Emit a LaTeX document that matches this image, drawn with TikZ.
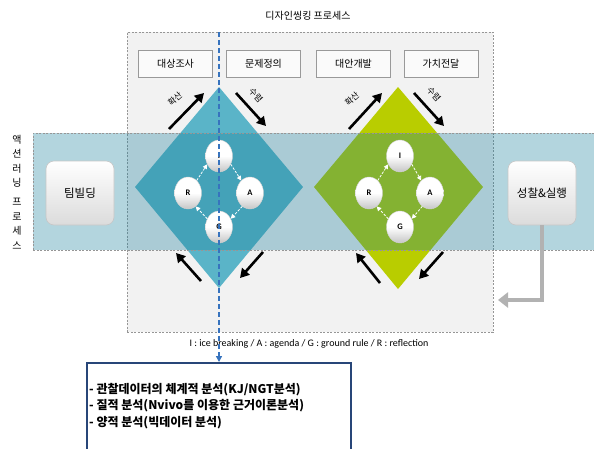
\documentclass[tikz,border=0pt]{standalone}
\usepackage{fontspec}
\setmainfont{Noto Sans CJK KR}
\newfontfamily\latin{Carlito}
\usetikzlibrary{arrows.meta,shapes.geometric}
\definecolor{dtbg}{RGB}{242,242,242}
\definecolor{bandc}{RGB}{25,126,154}
\definecolor{dblue}{RGB}{90,180,200}
\definecolor{dgreen}{RGB}{185,205,0}
\definecolor{lineblue}{RGB}{55,115,190}
\definecolor{boxblue}{RGB}{40,70,120}
\definecolor{arrgray}{RGB}{178,178,178}
\definecolor{dashgray}{RGB}{150,150,150}
\begin{document}
\begin{tikzpicture}[x=1pt,y=-1pt,
  finedash/.style={draw=dashgray, line width=0.6pt, dash pattern=on 2pt off 1.5pt},
  stepbox/.style={draw=gray!80, line width=0.6pt, fill=white!96!gray, minimum width=74pt, minimum height=27pt, inner sep=0pt, font=\fontsize{10}{12}\selectfont},
  sidebox/.style={draw=gray!45, line width=0.6pt, rounded corners=8pt, top color=white, bottom color=gray!28, minimum width=68pt, minimum height=64pt, inner sep=0pt, font=\fontsize{11.5}{13}\selectfont},
  ball/.style={ellipse, draw=gray!35, line width=0.4pt, top color=white, bottom color=gray!45, middle color=white, minimum width=27pt, minimum height=32pt, inner sep=0pt, font=\latin\bfseries\fontsize{8.5}{9}\selectfont},
  cyc/.style={white, line width=0.8pt, dash pattern=on 2.5pt off 1.5pt, -{Triangle[length=4.5pt,width=4.5pt]}},
  bigarr/.style={black, line width=2.6pt, -{Triangle[length=9pt,width=10pt]}},
  arrlab/.style={font=\fontsize{8.5}{10}\selectfont, inner sep=0pt}
]
\useasboundingbox (0,0) rectangle (594,448);
\clip (0,0) rectangle (594,448);

% title
\node[font=\fontsize{10}{12}\selectfont] (title) at (308,16) {디자인씽킹 프로세스};

% design thinking area
\node[finedash, fill=dtbg, minimum width=366pt, minimum height=300pt, inner sep=0pt, anchor=north west] (dt) at (127,32) {};

% step boxes
\node[stepbox] (s1) at (175.5,63.5) {대상조사};
\node[stepbox] (s2) at (263.5,63.5) {문제정의};
\node[stepbox] (s3) at (353.5,63.5) {대안개발};
\node[stepbox] (s4) at (441,63.5) {가치전달};

% diamonds
\fill[dblue] (219,87) -- (303,187) -- (219,288) -- (135,187) -- cycle;
\fill[dgreen] (398,87) -- (483,187) -- (398,289) -- (314,187) -- cycle;

% action learning band
\node[finedash, fill=bandc, fill opacity=0.33, minimum width=565pt, minimum height=117pt, inner sep=0pt, anchor=north west] (band) at (33,133) {};

% vertical label
\node[align=center, font=\fontsize{10}{14.6}\selectfont, inner sep=0pt] (al) at (17,192) {액\\션\\러\\닝\\[4pt]프\\로\\세\\스};

% side boxes
\node[sidebox] (tb) at (80,193) {팀빌딩};
\node[sidebox] (ref) at (542,193) {성찰\&실행};

% IRAG cycles, blue
\node[ball] (bI) at (219,156) {I};
\node[ball] (bR) at (188,193) {R};
\node[ball] (bA) at (250,193) {A};
\node[ball] (bG) at (219,227) {G};
\draw[cyc] (bI.-35) -- (bA.125);
\draw[cyc] (bA.-120) -- (bG.35);
\draw[cyc] (bG.145) -- (bR.-60);
\draw[cyc] (bR.55) -- (bI.215);

% IRAG cycles, green
\node[ball] (gI) at (400,156) {I};
\node[ball] (gR) at (369,193) {R};
\node[ball] (gA) at (430,193) {A};
\node[ball] (gG) at (400,227) {G};
\draw[cyc] (gI.-35) -- (gA.125);
\draw[cyc] (gA.-120) -- (gG.35);
\draw[cyc] (gG.145) -- (gR.-60);
\draw[cyc] (gR.55) -- (gI.215);

% black arrows, blue diamond
\coordinate (b1s) at (169,129); \coordinate (b1e) at (204,93);
\coordinate (b2s) at (236,93);  \coordinate (b2e) at (266,126);
\coordinate (b3s) at (201,281); \coordinate (b3e) at (176,253);
\coordinate (b4s) at (263,252); \coordinate (b4e) at (240,278);
\draw[bigarr] (b1s) -- (b1e);
\draw[bigarr] (b2s) -- (b2e);
\draw[bigarr] (b3s) -- (b3e);
\draw[bigarr] (b4s) -- (b4e);
\node[arrlab, rotate=42] (lb1) at (175,99) {확산};
\node[arrlab, rotate=-48] (lb2) at (256,95) {수렴};

% black arrows, green diamond
\coordinate (g1s) at (349,129); \coordinate (g1e) at (382,93);
\coordinate (g2s) at (414,93);  \coordinate (g2e) at (444,126);
\coordinate (g3s) at (380,283); \coordinate (g3e) at (356,253);
\coordinate (g4s) at (443,252); \coordinate (g4e) at (419,279);
\draw[bigarr] (g1s) -- (g1e);
\draw[bigarr] (g2s) -- (g2e);
\draw[bigarr] (g3s) -- (g3e);
\draw[bigarr] (g4s) -- (g4e);
\node[arrlab, rotate=42] (lg1) at (352,99) {확산};
\node[arrlab, rotate=-48] (lg2) at (434,94) {수렴};

% gray return arrow
\coordinate (gt) at (498,300);
\draw[arrgray, line width=4.5pt, -{Triangle[length=10pt,width=15pt]}] (ref.south) |- (gt);

% caption
\node[font=\latin\fontsize{10}{12}\selectfont, inner sep=0pt] (cap) at (309,344) {I : ice breaking / A : agenda / G : ground rule / R : reflection};

% bottom box
\node[draw=boxblue, line width=1.8pt, fill=white, minimum width=264pt, minimum height=100pt, inner sep=0pt, anchor=north west] (bb) at (86,362) {};
\node[anchor=west, align=left, inner sep=0pt, font=\bfseries\fontsize{12}{16.5}\selectfont] (bt) at (89,406) {- 관찰데이터의 체계적 분석(KJ/NGT분석)\\- 질적 분석(Nvivo를 이용한 근거이론분석)\\- 양적 분석(빅데이터 분석)};

% blue dashed line
\coordinate (dlt) at (219,32);
\coordinate (dlb) at (bb.north west -| dlt);
\draw[lineblue, line width=1.3pt, dash pattern=on 5pt off 3pt, -{Triangle[length=6pt,width=6pt]}] (dlt) -- (dlb);
\end{tikzpicture}
\end{document}
